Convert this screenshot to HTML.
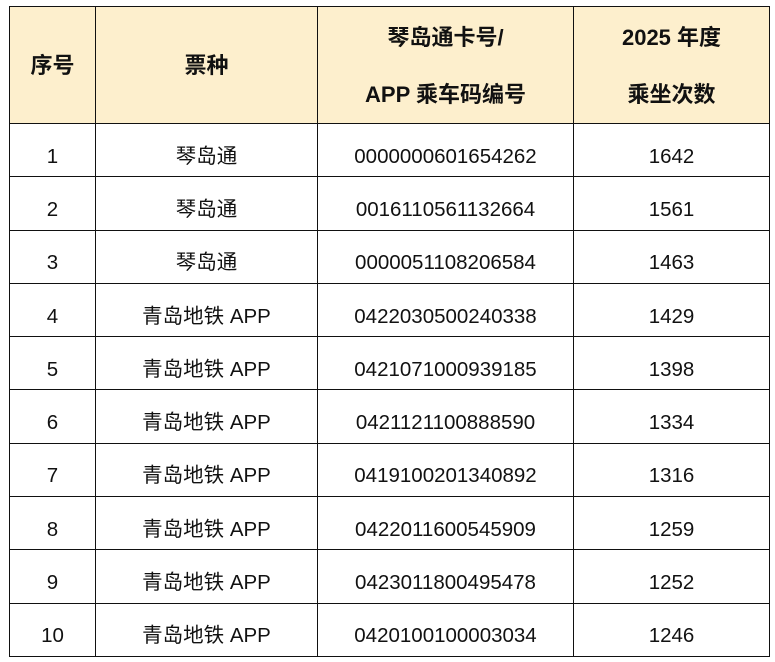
<!DOCTYPE html>
<html><head><meta charset="utf-8"><style>
html,body{margin:0;padding:0;background:#fff;width:775px;height:662px;overflow:hidden}
table{position:absolute;left:9px;top:6px;border-collapse:collapse;table-layout:fixed;width:760px;font-family:"Liberation Sans","Noto Sans CJK SC",sans-serif;color:#111}
td,th{border:1.5px solid #111;text-align:center;padding:0}
th{background:#fdefcd;font-size:22px;font-weight:bold;height:115px;padding-top:1px;line-height:57px;vertical-align:middle}
td{font-size:20.5px;height:39.3px;padding-top:13px;line-height:24px;vertical-align:middle}
</style></head><body>
<table>
<colgroup><col style="width:86px"><col style="width:222px"><col style="width:256px"><col style="width:196px"></colgroup>
<tr><th>序号</th><th>票种</th><th>琴岛通卡号/<br>APP 乘车码编号</th><th>2025 年度<br>乘坐次数</th></tr>
<tr><td>1</td><td>琴岛通</td><td>0000000601654262</td><td>1642</td></tr>
<tr><td>2</td><td>琴岛通</td><td>0016110561132664</td><td>1561</td></tr>
<tr><td>3</td><td>琴岛通</td><td>0000051108206584</td><td>1463</td></tr>
<tr><td>4</td><td>青岛地铁 APP</td><td>0422030500240338</td><td>1429</td></tr>
<tr><td>5</td><td>青岛地铁 APP</td><td>0421071000939185</td><td>1398</td></tr>
<tr><td>6</td><td>青岛地铁 APP</td><td>0421121100888590</td><td>1334</td></tr>
<tr><td>7</td><td>青岛地铁 APP</td><td>0419100201340892</td><td>1316</td></tr>
<tr><td>8</td><td>青岛地铁 APP</td><td>0422011600545909</td><td>1259</td></tr>
<tr><td>9</td><td>青岛地铁 APP</td><td>0423011800495478</td><td>1252</td></tr>
<tr><td>10</td><td>青岛地铁 APP</td><td>0420100100003034</td><td>1246</td></tr>
</table>
</body></html>
